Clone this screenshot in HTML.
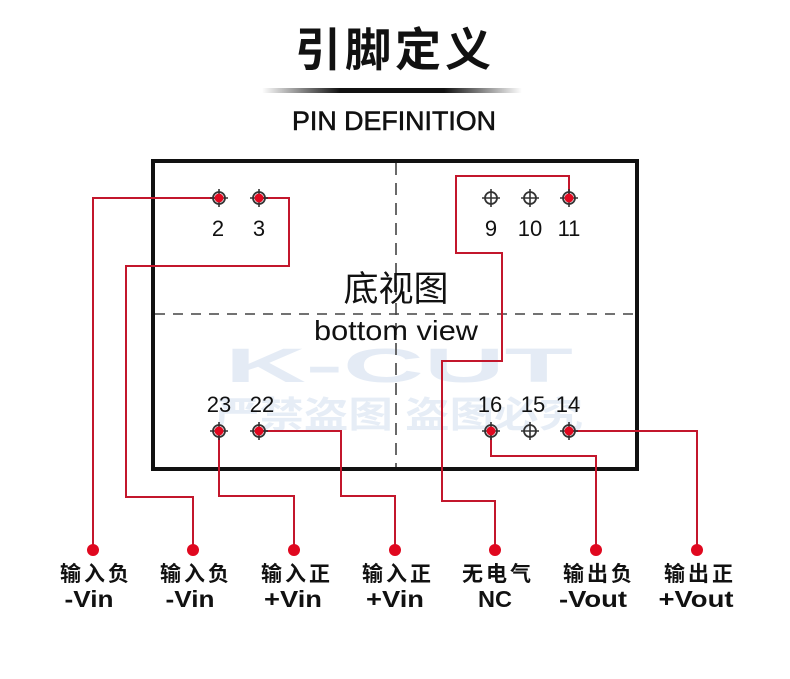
<!DOCTYPE html>
<html>
<head>
<meta charset="utf-8">
<style>
  html,body{margin:0;padding:0;background:#fff;}
  svg{display:block;}
  .cjk{font-family:"Liberation Sans","Noto Sans CJK SC",sans-serif;}
  .lat{font-family:"Liberation Sans","Noto Sans CJK SC",sans-serif;}
</style>
</head>
<body>
<svg width="790" height="679" viewBox="0 0 790 679" xmlns="http://www.w3.org/2000/svg">
  <defs>
    <linearGradient id="bar" x1="0" x2="1" y1="0" y2="0">
      <stop offset="0" stop-color="#111" stop-opacity="0"/>
      <stop offset="0.3" stop-color="#111" stop-opacity="1"/>
      <stop offset="0.7" stop-color="#111" stop-opacity="1"/>
      <stop offset="1" stop-color="#111" stop-opacity="0"/>
    </linearGradient>
    <g id="pin">
      <circle cx="0" cy="0" r="6" fill="none" stroke="#333" stroke-width="1.8"/>
      <line x1="-9" y1="0" x2="9" y2="0" stroke="#333" stroke-width="1.6"/>
      <line x1="0" y1="-9" x2="0" y2="9" stroke="#333" stroke-width="1.6"/>
    </g>
  </defs>
  <rect width="790" height="679" fill="#fff"/>

  <!-- Title -->
  <text x="395" y="66" text-anchor="middle" class="cjk" font-size="46" font-weight="700" fill="#111" letter-spacing="4">引脚定义</text>
  <rect x="262" y="88" width="260" height="5" fill="url(#bar)"/>
  <text x="394" y="130" text-anchor="middle" class="lat" font-size="27" fill="#111" stroke="#111" stroke-width="0.6" textLength="204" lengthAdjust="spacingAndGlyphs">PIN DEFINITION</text>

  <!-- watermark -->
  <text x="225" y="382" class="lat" font-size="48" font-weight="700" fill="#e4ebf5" textLength="348" lengthAdjust="spacingAndGlyphs">K-CUT</text>
  <text x="215" y="427" class="cjk" font-size="36" font-weight="700" fill="#e6edf6" textLength="368" lengthAdjust="spacingAndGlyphs">严禁盗图 盗图必究</text>

  <!-- box -->
  <rect x="153" y="161" width="484" height="308" fill="none" stroke="#111" stroke-width="4"/>
  <line x1="155" y1="314" x2="635" y2="314" stroke="#444" stroke-width="1.6" stroke-dasharray="10,8"/>
  <line x1="396" y1="163" x2="396" y2="467" stroke="#444" stroke-width="1.6" stroke-dasharray="12,8"/>

  <text x="396" y="301" text-anchor="middle" class="cjk" font-size="35" fill="#111">底视图</text>
  <text x="396" y="340" text-anchor="middle" class="lat" font-size="28" fill="#111" textLength="164" lengthAdjust="spacingAndGlyphs">bottom view</text>

  <!-- wires -->
  <g fill="none" stroke="#c3172c" stroke-width="2">
    <path d="M219,198 H93 V550"/>
    <path d="M259,198 H289 V266 H126 V497 H193 V550"/>
    <path d="M569,198 V176 H456 V253 H502 V361 H442 V501 H495 V550"/>
    <path d="M219,431 V496 H294 V550"/>
    <path d="M259,431 H341 V496 H395 V550"/>
    <path d="M491,431 V456 H596 V550"/>
    <path d="M569,431 H697 V550"/>
  </g>

  <!-- pins -->
  <use href="#pin" x="219" y="198"/>
  <use href="#pin" x="259" y="198"/>
  <use href="#pin" x="491" y="198"/>
  <use href="#pin" x="530" y="198"/>
  <use href="#pin" x="569" y="198"/>
  <use href="#pin" x="219" y="431"/>
  <use href="#pin" x="259" y="431"/>
  <use href="#pin" x="491" y="431"/>
  <use href="#pin" x="530" y="431"/>
  <use href="#pin" x="569" y="431"/>
  <g fill="#e0081f">
    <circle cx="219" cy="198" r="4.5"/>
    <circle cx="259" cy="198" r="4.5"/>
    <circle cx="569" cy="198" r="4.5"/>
    <circle cx="219" cy="431" r="4.5"/>
    <circle cx="259" cy="431" r="4.5"/>
    <circle cx="491" cy="431" r="4.5"/>
    <circle cx="569" cy="431" r="4.5"/>
  </g>

  <!-- pin numbers -->
  <g class="lat" font-size="22" fill="#111" text-anchor="middle">
    <text x="218" y="236">2</text>
    <text x="259" y="236">3</text>
    <text x="491" y="236">9</text>
    <text x="530" y="236">10</text>
    <text x="569" y="236">11</text>
    <text x="219" y="412">23</text>
    <text x="262" y="412">22</text>
    <text x="490" y="412">16</text>
    <text x="533" y="412">15</text>
    <text x="568" y="412">14</text>
  </g>

  <!-- bottom dots -->
  <g fill="#e0081f">
    <circle cx="93" cy="550" r="6"/>
    <circle cx="193" cy="550" r="6"/>
    <circle cx="294" cy="550" r="6"/>
    <circle cx="395" cy="550" r="6"/>
    <circle cx="495" cy="550" r="6"/>
    <circle cx="596" cy="550" r="6"/>
    <circle cx="697" cy="550" r="6"/>
  </g>

  <!-- bottom labels -->
  <g class="cjk" font-size="21" font-weight="700" fill="#111" text-anchor="middle" letter-spacing="3">
    <text x="96" y="581">输入负</text>
    <text x="196" y="581">输入负</text>
    <text x="297" y="581">输入正</text>
    <text x="398" y="581">输入正</text>
    <text x="498" y="581">无电气</text>
    <text x="599" y="581">输出负</text>
    <text x="700" y="581">输出正</text>
  </g>
  <g class="lat" font-size="23" font-weight="700" fill="#111" text-anchor="middle">
    <text x="89" y="607" textLength="49" lengthAdjust="spacingAndGlyphs">-Vin</text>
    <text x="190" y="607" textLength="49" lengthAdjust="spacingAndGlyphs">-Vin</text>
    <text x="293" y="607" textLength="58" lengthAdjust="spacingAndGlyphs">+Vin</text>
    <text x="395" y="607" textLength="58" lengthAdjust="spacingAndGlyphs">+Vin</text>
    <text x="495" y="607" textLength="34" lengthAdjust="spacingAndGlyphs">NC</text>
    <text x="593" y="607" textLength="68" lengthAdjust="spacingAndGlyphs">-Vout</text>
    <text x="696" y="607" textLength="75" lengthAdjust="spacingAndGlyphs">+Vout</text>
  </g>
</svg>
</body>
</html>
